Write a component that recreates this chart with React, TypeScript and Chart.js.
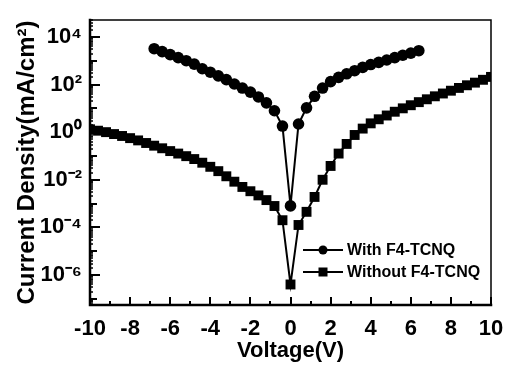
import { useEffect, useRef } from 'react';
import { Chart, registerables } from 'chart.js';

Chart.register(...registerables);

// Current density (mA/cm²) vs. applied voltage (V)
const withVoltage = [
  -6.8, -6.4, -6.0, -5.6, -5.2, -4.8, -4.4, -4.0, -3.6, -3.2, -2.8, -2.4, -2.0, -1.6, -1.2, -0.8, -0.4,
  0, 0.4, 0.8, 1.2, 1.6, 2.0, 2.4, 2.8, 3.2, 3.6, 4.0, 4.4, 4.8, 5.2, 5.6, 6.0, 6.4,
];
const withDensity = [
  3.2e3, 2.4e3, 1.8e3, 1.35e3, 1.0e3, 7.2e2, 4.6e2, 3.3e2, 2.3e2, 1.6e2, 1.05e2, 71, 48, 30, 17, 7.9, 1.8,
  8e-4, 2.2, 10.5, 32, 71, 132, 200, 282, 380, 525, 690, 850, 1070, 1350, 1700, 2090, 2630,
];

const withoutVoltage = [
  -10, -9.6, -9.2, -8.8, -8.4, -8.0, -7.6, -7.2, -6.8, -6.4, -6.0, -5.6, -5.2, -4.8, -4.4, -4.0, -3.6,
  -3.2, -2.8, -2.4, -2.0, -1.6, -1.2, -0.8, -0.4, 0, 0.4, 0.8, 1.2, 1.6, 2.0, 2.4, 2.8, 3.2, 3.6, 4.0,
  4.4, 4.8, 5.2, 5.6, 6.0, 6.4, 6.8, 7.2, 7.6, 8.0, 8.4, 8.8, 9.2, 9.6, 10,
];
const withoutDensity = [
  1.32, 1.15, 1.0, 0.83, 0.69, 0.56, 0.45, 0.35, 0.27, 0.21, 0.16, 0.126, 0.098, 0.074, 0.052, 0.035, 0.023,
  0.014, 8.3e-3, 5.0e-3, 3.3e-3, 2.2e-3, 1.4e-3, 7.9e-4, 2.0e-4, 4.0e-7, 1.26e-4, 4.5e-4, 1.9e-3, 1.0e-2,
  3.8e-2, 0.126, 0.32, 0.76, 1.41, 2.34, 3.47, 5.0, 7.2, 10, 13.5, 18.2, 24, 32, 42, 55, 72, 93, 120, 158, 209,
];

const seriesNames = ['With F4-TCNQ', 'Without F4-TCNQ'];

const xMin = -10;
const xMax = 10;
const xTickValues = [-10, -8, -6, -4, -2, 0, 2, 4, 6, 8, 10];
const yMinExp = -7.26;
const yMaxExp = 4.71;
const yTickValues = [1e-6, 1e-4, 1e-2, 1, 1e2, 1e4];
const yTickLabels = ['10⁻⁶', '10⁻⁴', '10⁻²', '10⁰', '10²', '10⁴'];

const FONT = '"Liberation Sans", Arial, Helvetica, sans-serif';
const INK = '#000000';

const backgroundPlugin = {
  id: 'whiteBackground',
  beforeDraw(chart: any) {
    const { ctx, width, height } = chart;
    ctx.save();
    ctx.fillStyle = '#ffffff';
    ctx.fillRect(0, 0, width, height);
    ctx.restore();
  },
};

// Box frame with inward-pointing ticks
const framePlugin = {
  id: 'frameTicks',
  afterDatasetsDraw(chart: any) {
    const { ctx, chartArea } = chart;
    const { left, right, top, bottom } = chartArea;
    const xs = chart.scales.x;
    const ys = chart.scales.y;
    ctx.save();
    ctx.strokeStyle = INK;
    ctx.lineCap = 'square';

    ctx.lineWidth = 1.5;
    ctx.beginPath();
    ctx.moveTo(left, top);
    ctx.lineTo(right, top);
    ctx.lineTo(right, bottom);
    ctx.stroke();

    ctx.lineWidth = 2.5;
    ctx.beginPath();
    ctx.moveTo(left, top);
    ctx.lineTo(left, bottom);
    ctx.lineTo(right, bottom);
    ctx.stroke();

    ctx.lineCap = 'butt';
    ctx.lineWidth = 2;
    for (let v = xMin; v <= xMax; v += 1) {
      const px = Math.round(xs.getPixelForValue(v));
      const len = v % 2 === 0 ? 8 : 4;
      ctx.beginPath();
      ctx.moveTo(px, bottom);
      ctx.lineTo(px, bottom - len);
      ctx.stroke();
    }

    const minV = Math.pow(10, yMinExp);
    const maxV = Math.pow(10, yMaxExp);
    for (let e = Math.floor(yMinExp); e <= Math.ceil(yMaxExp); e++) {
      for (let m = 1; m <= 9; m++) {
        const val = m * Math.pow(10, e);
        if (val < minV || val > maxV) continue;
        const py = Math.round(ys.getPixelForValue(val));
        let len = 3;
        if (m === 1) len = e % 2 === 0 ? 10 : 7;
        ctx.lineWidth = m === 1 ? 2 : 1.5;
        ctx.beginPath();
        ctx.moveTo(left, py);
        ctx.lineTo(left + len, py);
        ctx.stroke();
      }
    }
    ctx.restore();
  },
};

// Legend: line segment with marker, then label
const legendPlugin = {
  id: 'lineMarkerLegend',
  afterDraw(chart: any) {
    const { ctx } = chart;
    const x0 = 303;
    const x1 = 343;
    const rows = [250, 272];
    ctx.save();
    chart.data.datasets.forEach((ds: any, i: number) => {
      const y = rows[i];
      ctx.strokeStyle = INK;
      ctx.lineWidth = 2;
      ctx.beginPath();
      ctx.moveTo(x0, y);
      ctx.lineTo(x1, y);
      ctx.stroke();
      ctx.fillStyle = INK;
      const cx = (x0 + x1) / 2;
      if (ds.pointStyle === 'rect') {
        ctx.fillRect(cx - 4.5, y - 4.5, 9, 9);
      } else {
        ctx.beginPath();
        ctx.arc(cx, y, 4.5, 0, Math.PI * 2);
        ctx.fill();
      }
      ctx.font = `bold 16px ${FONT}`;
      ctx.textAlign = 'left';
      ctx.textBaseline = 'middle';
      ctx.fillText(ds.label, x1 + 4, y + 1);
    });
    ctx.restore();
  },
};

export default function App() {
  const canvasRef = useRef<HTMLCanvasElement | null>(null);

  useEffect(() => {
    const canvas = canvasRef.current;
    if (!canvas) return;

    const chart = new Chart(canvas, {
      type: 'line',
      data: {
        datasets: [
          {
            label: seriesNames[0],
            data: withVoltage.map((v, i) => ({ x: v, y: withDensity[i] })),
            borderColor: INK,
            backgroundColor: INK,
            borderWidth: 2,
            pointStyle: 'circle',
            pointRadius: 5.8,
            pointBorderWidth: 0,
            pointBackgroundColor: INK,
            tension: 0,
          },
          {
            label: seriesNames[1],
            data: withoutVoltage.map((v, i) => ({ x: v, y: withoutDensity[i] })),
            borderColor: INK,
            backgroundColor: INK,
            borderWidth: 2,
            pointStyle: 'rect',
            pointRadius: 7,
            pointBorderWidth: 0,
            pointBackgroundColor: INK,
            tension: 0,
          },
        ],
      } as any,
      options: {
        responsive: false,
        maintainAspectRatio: false,
        devicePixelRatio: 1,
        animation: false,
        events: [],
        layout: { padding: { left: 0, right: 16, top: 20, bottom: 0 } },
        plugins: {
          legend: { display: false },
          tooltip: { enabled: false },
        },
        scales: {
          x: {
            type: 'linear',
            min: xMin,
            max: xMax,
            afterFit: (s: any) => {
              s.height = 60;
            },
            afterBuildTicks: (s: any) => {
              s.ticks = xTickValues.map((v) => ({ value: v }));
            },
            grid: { display: false },
            border: { display: false },
            ticks: {
              color: INK,
              padding: 3,
              font: { family: FONT, size: 22, weight: 'bold' },
              callback: (v: any) => String(v),
            },
            title: {
              display: true,
              text: 'Voltage(V)',
              color: INK,
              font: { family: FONT, size: 22, weight: 'bold' },
              padding: { top: 0, bottom: 1 },
            },
          },
          y: {
            type: 'logarithmic',
            min: Math.pow(10, yMinExp),
            max: Math.pow(10, yMaxExp),
            afterFit: (s: any) => {
              s.width = 90;
            },
            afterBuildTicks: (s: any) => {
              s.ticks = yTickValues.map((v) => ({ value: v }));
            },
            grid: { display: false },
            border: { display: false },
            ticks: {
              color: INK,
              padding: 0,
              autoSkip: false,
              font: { family: FONT, size: 22, weight: 'bold' },
              callback: (v: any) => {
                const idx = yTickValues.findIndex((t) => Math.abs(Math.log10(t) - Math.log10(v)) < 1e-6);
                return idx >= 0 ? yTickLabels[idx] : '';
              },
            },
            title: {
              display: true,
              text: 'Current Density(mA/cm²)',
              color: INK,
              font: { family: FONT, size: 24, weight: 'bold' },
              padding: { top: 13, bottom: 0 },
            },
          },
        },
      } as any,
      plugins: [backgroundPlugin, framePlugin, legendPlugin],
    });

    return () => {
      chart.destroy();
    };
  }, []);

  return (
    <div style={{ position: 'absolute', left: 0, top: 0, width: 507, height: 365, background: '#fff' }}>
      <canvas ref={canvasRef} width={507} height={365} style={{ display: 'block' }} />
    </div>
  );
}
